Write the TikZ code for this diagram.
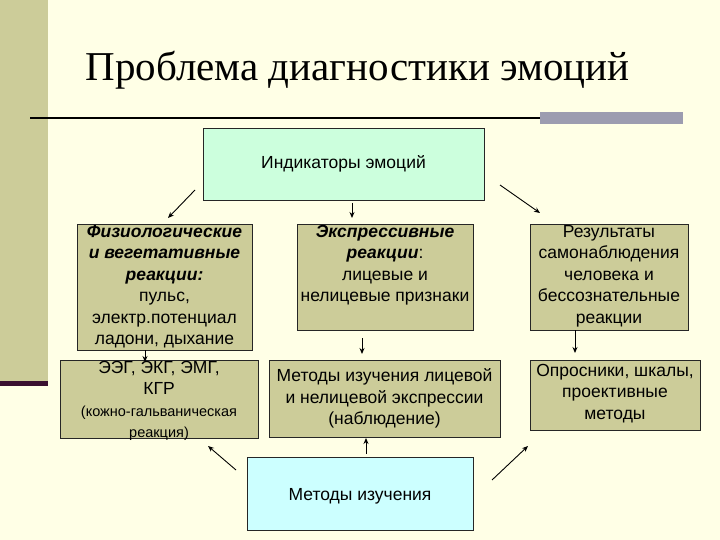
\documentclass[tikz,border=0pt]{standalone}
\usepackage{fontspec}
\setmainfont{Liberation Sans}
\newfontfamily\titlefont{Liberation Serif}
\usetikzlibrary{arrows.meta}
\definecolor{bgc}{HTML}{FFFFE6}
\definecolor{olive}{HTML}{CCCC99}
\definecolor{lgreen}{HTML}{CCFFDD}
\definecolor{lcyan}{HTML}{CCFFFF}
\definecolor{barc}{HTML}{9C9CB0}
\definecolor{darkp}{HTML}{3A1030}
\tikzset{
 box/.style={draw=black!85,line width=0.8pt,fill=olive,inner sep=0pt},
 txt/.style={align=center,inner sep=0pt,font=\fontsize{17.5}{21.5}\selectfont},
 arr/.style={-{Stealth[length=6pt,width=5pt]},line width=0.9pt}
}
\begin{document}
\begin{tikzpicture}[x=1pt,y=-1pt]
\useasboundingbox (0,0) rectangle (720,540);
\fill[bgc] (0,0) rectangle (720,540);
\fill[olive] (0,0) rectangle (48,383);
\fill[darkp] (0,381) rectangle (48,386);
\draw[line width=1.5pt] (30,118) -- (540,118);
\fill[barc] (540,112) rectangle (683,124);
\node[font=\titlefont\fontsize{41}{44}\selectfont,anchor=west] (title) at (82,70) {Проблема диагностики эмоций};
\node[box,fill=lgreen,minimum width=281pt,minimum height=72pt] (ind) at (343.5,164) {};
\node[box,minimum width=175pt,minimum height=126pt] (phys) at (164.5,287) {};
\node[box,minimum width=176pt,minimum height=106pt] (expr) at (385,277) {};
\node[box,minimum width=158pt,minimum height=106pt] (res) at (609,277) {};
\node[box,minimum width=198pt,minimum height=78pt] (eeg) at (159,399) {};
\node[box,minimum width=231pt,minimum height=77pt] (meth) at (384.5,398.5) {};
\node[box,minimum width=170pt,minimum height=70pt] (opr) at (615,395) {};
\node[box,fill=lcyan,minimum width=226pt,minimum height=73pt] (mi) at (360,493.5) {};
\node[txt] (indT) at (343.5,164) {Индикаторы эмоций};
\node[txt,anchor=north] (physT) at (164.5,225) {\textbf{\textit{Физиологические}}\\\textbf{\textit{и вегетативные}}\\\textbf{\textit{реакции:}}\\пульс,\\электр.потенциал\\ладони, дыхание};
\node[txt,anchor=north] (exprT) at (385,225) {\textbf{\textit{Экспрессивные}}\\\textbf{\textit{реакции}}:\\лицевые и\\нелицевые признаки};
\node[txt,anchor=north] (resT) at (609,225) {Результаты\\самонаблюдения\\человека и\\бессознательные\\реакции};
\node[txt,anchor=north] (eegT) at (159,361) {ЭЭГ, ЭКГ, ЭМГ,\\КГР\\{\fontsize{14.5}{21.5}\selectfont(кожно-гальваническая}\\{\fontsize{14.5}{21.5}\selectfont реакция)}};
\node[txt] (methT) at (384.5,398.5) {Методы изучения лицевой\\и нелицевой экспрессии\\(наблюдение)};
\node[txt,anchor=north] (oprT) at (615,364) {Опросники, шкалы,\\проективные\\методы};
\node[txt] (miT) at (360,496) {Методы изучения};
\coordinate (a1s) at (195,190); \coordinate (a1e) at (168,218);
\coordinate (a2s) at (352,203); \coordinate (a2e) at (352,218);
\coordinate (a3s) at (500,185); \coordinate (a3e) at (540,213);
\coordinate (a4s) at (362,338); \coordinate (a4e) at (362,354);
\coordinate (a5e) at (575,353);
\coordinate (a6e) at (145,362);
\coordinate (b1s) at (236,470); \coordinate (b1e) at (208,446);
\coordinate (b2e) at (366,438);
\coordinate (b3s) at (492,480); \coordinate (b3e) at (528,446);
\draw[arr] (a1s) -- (a1e);
\draw[arr] (a2s) -- (a2e);
\draw[arr] (a3s) -- (a3e);
\draw[arr] (a4s) -- (a4e);
\draw[arr] (res.south -| a5e) -- (a5e);
\draw[arr] (phys.south -| a6e) -- (a6e);
\draw[arr] (b1s) -- (b1e);
\draw[arr] (mi.north -| b2e) ++(0,-3) -- (b2e);
\draw[arr] (b3s) -- (b3e);
\end{tikzpicture}
\end{document}
